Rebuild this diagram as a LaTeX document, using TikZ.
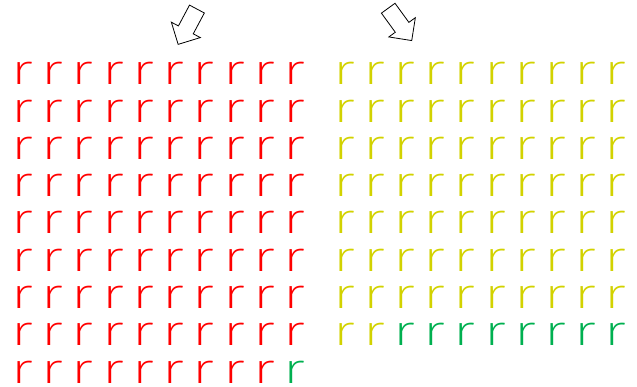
\documentclass[tikz,border=0pt]{standalone}
\usepackage{fontspec}
\setmainfont{Fira Sans ExtraLight}
\usetikzlibrary{shapes.arrows}
\definecolor{gridred}{RGB}{255, 0, 0}
\definecolor{gridyellow}{RGB}{210, 210, 0}
\definecolor{gridgreen}{RGB}{0, 176, 80}

\begin{document}
\begin{tikzpicture}[
    x=1pt, y=-1pt,
    every node/.style={font=\fontsize{42}{42}\selectfont},
    letter/.style={inner sep=0pt, anchor=base, xscale=1.4},
    pointer/.style={single arrow, draw=black, thick, fill=white,
                    inner xsep=0pt, inner ysep=8pt, minimum height=40pt,
                    single arrow head extend=8pt, single arrow head indent=0pt}
]
\useasboundingbox (0,0) rectangle (637,387);

% Arrows
\node[pointer, rotate=-118] (arrowL) at (189.5,23) {};
\node[pointer, rotate=-54] (arrowR) at (397.5,21) {};

% Left grid
\foreach \i in {0,...,7}
  \foreach \j in {0,...,9}
    \node[letter, text=gridred] (L-\i-\j) at (22+30.3*\j, 85+37.25*\i) {r};
\foreach \j in {0,...,8}
  \node[letter, text=gridred] (L-8-\j) at (22+30.3*\j, 85+37.25*8) {r};
\node[letter, text=gridgreen] (L-8-9) at (22+30.3*9, 85+37.25*8) {r};

% Right grid
\foreach \i in {0,...,6}
  \foreach \j in {0,...,9}
    \node[letter, text=gridyellow] (R-\i-\j) at (344+30.2*\j, 85+37.25*\i) {r};
\foreach \j in {0,1}
  \node[letter, text=gridyellow] (R-7-\j) at (344+30.2*\j, 85+37.25*7) {r};
\foreach \j in {2,...,9}
  \node[letter, text=gridgreen] (R-7-\j) at (344+30.2*\j, 85+37.25*7) {r};

\end{tikzpicture}
\end{document}
